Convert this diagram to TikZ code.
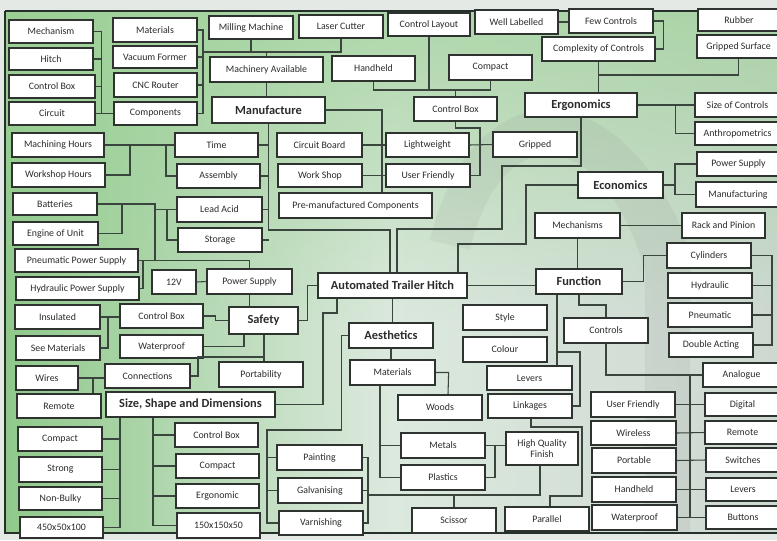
\documentclass[tikz,border=0pt]{standalone}
\usepackage{fontspec}
\setmainfont{Carlito}
\usetikzlibrary{calc,fadings}
\definecolor{lnc}{HTML}{3A463D}
\definecolor{boxc}{HTML}{2E332F}
\definecolor{txtc}{HTML}{2A2D2B}
\definecolor{bgL}{HTML}{8FC98A}
\definecolor{bgM}{HTML}{DCE9DE}
\definecolor{bgR}{HTML}{CDD8D1}
\definecolor{bgG}{HTML}{A0D29A}
\definecolor{outerc}{HTML}{E4E9E6}
\definecolor{framec}{HTML}{26302A}
\tikzfading[name=fadedown, top color=transparent!25, bottom color=transparent!100]
\newcommand\mybox[7][]{\node[bx,#1,minimum width={(#5-#3)*0.75pt},minimum height={(#6-#4)*0.75pt}] (#2) at ({(#3+#5)/2},{(#4+#6)/2}) {#7};}
\begin{document}
\begin{tikzpicture}[x=0.75pt,y=-0.75pt,
  bx/.style={draw=boxc,line width=0.95pt,fill=white,inner sep=0pt,align=center,text=txtc,font=\fontsize{7.4}{8}\selectfont},
  hd/.style={font=\bfseries\fontsize{9.3}{10}\selectfont},
  cn/.style={draw=lnc,line width=0.8pt}]
\useasboundingbox (0,0) rectangle (777,540);
\clip (0,0) rectangle (777,540);
% background
\fill[outerc] (0,0) rectangle (777,540);
\shade[left color=bgL, right color=bgR, middle color=bgM] (5,11) rectangle (777,533);
\fill[bgG, path fading=fadedown] (5,11) rectangle (777,320);
\fill[gray, opacity=0.10] (430,240) .. controls (470,70) and (620,60) .. (690,250) -- (690,533) -- (645,533) -- (645,270) .. controls (600,120) and (500,120) .. (470,250) -- cycle;
\draw[framec, line width=1.6pt] (5,11) -- (780,11);
\draw[framec, line width=1.6pt] (5,11) -- (5,533) -- (780,533);

% left column
\mybox{mech}{9}{20}{93}{43}{Mechanism}
\mybox{hitch}{9}{48}{93}{70}{Hitch}
\mybox{cboxa}{9}{75}{95}{98}{Control Box}
\mybox{circ}{9}{102}{95}{125}{Circuit}
\mybox{mhours}{12}{133}{104}{157}{Machining Hours}
\mybox{whours}{12}{163}{105}{187}{Workshop Hours}
\mybox{batt}{13}{193}{97}{215}{Batteries}
\mybox{engine}{13}{222}{98}{245}{Engine of Unit}
\mybox{pneu}{15}{249}{138}{272}{Pneumatic Power Supply}
\mybox{hydr}{16}{277}{139}{300}{Hydraulic Power Supply}
\mybox{insul}{15}{305}{100}{329}{Insulated}
\mybox{seemat}{16}{336}{100}{360}{See Materials}
\mybox{wires}{16}{366}{78}{390}{Wires}
\mybox{remotea}{17}{394}{101}{418}{Remote}
\mybox{compacta}{18}{427}{102}{451}{Compact}
\mybox{strong}{19}{457}{102}{482}{Strong}
\mybox{nonbulky}{19}{487}{102}{510}{Non-Bulky}
\mybox{dima}{20}{517}{103}{538}{450x50x100}
% second column
\mybox{mata}{113}{18}{197}{42}{Materials}
\mybox{vac}{113}{46}{197}{68}{Vacuum Former}
\mybox{cnc}{114}{73}{197}{97}{CNC Router}
\mybox{comp}{114}{102}{197}{125}{Components}
\mybox{time}{175}{133}{258}{157}{Time}
\mybox{assem}{177}{164}{260}{188}{Assembly}
\mybox{lead}{177}{197}{262}{222}{Lead Acid}
\mybox{stor}{178}{228}{262}{252}{Storage}
\mybox{vtw}{152}{270}{196}{294}{12V}
\mybox{psupa}{207}{269}{292}{294}{Power Supply}
\mybox{cboxb}{120}{304}{203}{328}{Control Box}
\mybox{wproofa}{120}{335}{203}{358}{Waterproof}
\mybox[hd]{safety}{229}{307}{298}{334}{Safety}
\mybox{conn}{105}{364}{190}{388}{Connections}
\mybox{porta}{219}{362}{303}{387}{Portability}
\mybox[hd]{ssd}{106}{392}{275}{417}{Size, Shape and Dimensions}
\mybox{cboxc}{175}{423}{258}{447}{Control Box}
\mybox{compactb}{176}{454}{259}{478}{Compact}
\mybox{ergon}{176}{484}{259}{508}{Ergonomic}
\mybox{dimb}{177}{513}{260}{538}{150x150x50}
% top row
\mybox{mill}{209}{16}{293}{39}{Milling Machine}
\mybox{laser}{299}{15}{383}{38}{Laser Cutter}
\mybox{clay}{388}{13}{470}{36}{Control Layout}
\mybox{well}{475}{10}{558}{34}{Well Labelled}
\mybox{few}{569}{9}{653}{33}{Few Controls}
\mybox{cplx}{542}{37}{655}{61}{Complexity of Controls}
\mybox{rubber}{698}{9}{780}{31}{Rubber}
\mybox{gsurf}{697}{35}{780}{58}{Gripped Surface}
\mybox{machav}{210}{57}{323}{82}{Machinery Available}
\mybox{handa}{332}{56}{415}{81}{Handheld}
\mybox{compactc}{449}{55}{532}{80}{Compact}
\mybox[hd]{manuf}{212}{97}{325}{123}{Manufacture}
\mybox{cboxd}{414}{97}{497}{121}{Control Box}
\mybox[hd]{ergo}{525}{93}{637}{117}{Ergonomics}
\mybox{sizec}{695}{93}{780}{117}{Size of Controls}
\mybox{anthro}{695}{122}{780}{145}{Anthropometrics}
\mybox{psupb}{697}{152}{780}{176}{Power Supply}
\mybox{manufg}{696}{182}{780}{207}{Manufacturing}
\mybox{cboard}{277}{133}{362}{157}{Circuit Board}
\mybox{wshop}{278}{164}{362}{187}{Work Shop}
\mybox{light}{386}{133}{469}{157}{Lightweight}
\mybox{ufa}{386}{164}{470}{187}{User Friendly}
\mybox{grip}{493}{132}{577}{157}{Gripped}
\mybox{premf}{279}{193}{432}{218}{Pre-manufactured Components}
\mybox[hd]{econ}{578}{172}{663}{198}{Economics}
\mybox{mechs}{535}{213}{620}{238}{Mechanisms}
\mybox{rack}{682}{213}{765}{238}{Rack and Pinion}
\mybox{cyl}{667}{243}{751}{268}{Cylinders}
\mybox{hyd}{668}{273}{752}{298}{Hydraulic}
\mybox{pneum}{668}{303}{752}{327}{Pneumatic}
\mybox{dbl}{669}{333}{753}{357}{Double Acting}
\mybox[hd]{func}{536}{269}{622}{294}{Function}
\mybox{ctrls}{564}{318}{648}{343}{Controls}
\mybox[hd]{ath}{318}{273}{467}{298}{Automated Trailer Hitch}
\mybox[hd]{aes}{349}{323}{433}{348}{Aesthetics}
\mybox{sty}{463}{305}{547}{330}{Style}
\mybox{colour}{463}{337}{547}{362}{Colour}
\mybox{matb}{350}{360}{435}{385}{Materials}
\mybox{leversa}{487}{366}{572}{390}{Levers}
\mybox{link}{488}{394}{572}{418}{Linkages}
\mybox{woods}{398}{395}{482}{420}{Woods}
\mybox{metals}{401}{433}{485}{458}{Metals}
\mybox{plast}{401}{465}{485}{490}{Plastics}
\mybox{hqf}{506}{432}{578}{465}{High Quality\\Finish}
\mybox{paint}{277}{445}{362}{470}{Painting}
\mybox{galv}{278}{478}{362}{503}{Galvanising}
\mybox{varn}{279}{511}{363}{535}{Varnishing}
\mybox{sciss}{412}{508}{496}{533}{Scissor}
\mybox{para}{505}{507}{589}{531}{Parallel}
\mybox{ufb}{591}{392}{675}{417}{User Friendly}
\mybox{wless}{591}{421}{676}{445}{Wireless}
\mybox{portb}{592}{448}{676}{473}{Portable}
\mybox{handb}{592}{477}{676}{502}{Handheld}
\mybox{wproofb}{592}{505}{677}{530}{Waterproof}
\mybox{analog}{703}{363}{780}{387}{Analogue}
\mybox{digital}{705}{393}{780}{416}{Digital}
\mybox{remoteb}{705}{421}{780}{444}{Remote}
\mybox{switch}{706}{448}{780}{472}{Switches}
\mybox{leversb}{706}{478}{780}{501}{Levers}
\mybox{buttons}{706}{506}{780}{529}{Buttons}

% ---------- connectors ----------
% left group to components
\draw[cn] (mech.east) -- ++(8,0) |- (comp.west);
\draw[cn] (hitch.east) -- (hitch.east -| 101,0);
\draw[cn] (cboxa.east) -- (cboxa.east -| 101,0);
\draw[cn] (circ.east) -- (comp.west);
% materials bus
\coordinate (jm) at (203,52);
\draw[cn] (mata.east) -| (jm |- comp.east) -- (comp.east);
\draw[cn] (vac.east) -- (vac.east -| jm);
\draw[cn] (cnc.east) -- (cnc.east -| jm);
\draw[cn] (jm) -| (laser.south);
\draw[cn] (mill.south) -- (mill.south |- jm);
\draw[cn] (machav.north) -- (machav.north |- jm);
\draw[cn] (machav.south) -- (machav.south |- manuf.north);
% hours and time
\draw[cn] (mhours.east) -- (time.west);
\draw[cn] (whours.east) -| (130,0 |- time.west);
\draw[cn] (assem.west) -| (166,0 |- time.west);
% manufacture bottom bus
\coordinate (jb) at (268.5,230);
\draw[cn] (manuf.south) -- (jb) -| (ath.north -| 390,0);
\draw[cn] (time.east) -- (time.east -| jb);
\draw[cn] (assem.east) -- (assem.east -| jb);
\draw[cn] (lead.east) -- (lead.east -| jb);
\draw[cn] (stor.east) -- (stor.east -| jb);
% manufacture right bus
\draw[cn] (manuf.east) -| (premf.north -| 382,0);
\draw[cn] (cboard.east) -- (light.west);
\draw[cn] (wshop.east) -- (ufa.west);
% control box (ergonomics)
\coordinate (jc) at (455.5,90);
\draw[cn] (handa.south) |- (jc) -| (compactc.south);
\draw[cn] (clay.south) -- (clay.south |- jc);
\draw[cn] (cboxd.north) -- (jc);
\draw[cn] (cboxd.south) |- (480,128) |- (ufa.east);
\draw[cn] (light.east) -- (grip.west);
% ergonomics
\draw[cn] (ergo.south) |- (502,166) |- (397,229) -- (ath.north -| 397,0);
\draw[cn] (cplx.south) -- (cplx.south |- ergo.north);
\draw[cn] (gsurf.south) |- (cplx.south |- 0,75);
\draw[cn] (well.east) -- (well.east -| few.west);
\draw[cn] (few.east) -- ++(10,0) |- (cplx.east);
\draw[cn] (ergo.east) -- (sizec.west);
\draw[cn] (ergo.east) -- ++(38,0) |- (anthro.west);
% economics
\coordinate (je) at (675,185);
\draw[cn] (econ.east) -- (je);
\draw[cn] (psupb.west) -| (je |- manufg.west) -- (manufg.west);
\draw[cn] (econ.west) -| (526,244) -| (ath.north -| 458,0);
% function
\draw[cn] (mechs.east) -- (rack.west);
\draw[cn] (mechs.south) -- (mechs.south |- func.north);
\draw[cn] (func.west |- ath.east) -- (ath.east);
\draw[cn] (func.east) -- ++(21,0) |- (cyl.west);
\coordinate (jr) at (772,300);
\draw[cn] (cyl.east) -| (jr |- dbl.east) -- (dbl.east);
\draw[cn] (hyd.east) -- (hyd.east -| jr);
\draw[cn] (pneum.east) -- (pneum.east -| jr);
\draw[cn] (func.south) |- (ctrls.north |- 0,305) -- (ctrls.north);
\coordinate (jl) at (557,352);
\draw[cn] (func.south -| jl) -- (leversa.north -| jl);
\draw[cn] (jl) -- (580,352) |- (link.east);
\draw[cn] (link.south -| 531,0) |- (582,427) -- (582,496) -| (para.north -| 550,0);
% finish
\coordinate (jp) at (368,495);
\draw[cn] (hqf.south -| 540,0) |- (jp);
\draw[cn] (paint.east) -| (jp |- varn.east) -- (varn.east);
\draw[cn] (galv.east) -- (galv.east -| jp);
\draw[cn] (sciss.north) -- (sciss.north |- jp);
\draw[cn] (metals.east) -- (metals.east -| hqf.west);
\draw[cn] (plast.east) -| (495,0 |- metals.east);
% aesthetics
\draw[cn] (ath.south) -- (ath.south |- aes.north);
\draw[cn] (aes.south) -- (aes.south |- matb.north);
\draw[cn] (matb.east) -- ++(13,0) -- (woods.north -| 448,0);
\draw[cn] (matb.south -| 380,0) |- (plast.west);
\draw[cn] (metals.west) -- (metals.west -| 380,0);
\draw[cn] (aes.west) -- ++(-7,0) |- (267,430) |- (varn.west);
\draw[cn] (paint.west) -- (paint.west -| 267,0);
\draw[cn] (galv.west) -- (galv.west -| 267,0);
% controls
\draw[cn] (ctrls.south) |- (analog.west);
\draw[cn] (690,0 |- analog.west) -- (690,0 |- wproofb.east);
\draw[cn] (ufb.east) -- (digital.west);
\draw[cn] (wless.east) -- (remoteb.west);
\draw[cn] (portb.east) -- (switch.west);
\draw[cn] (handb.east) -- (leversb.west);
\draw[cn] (wproofb.east) -- (buttons.west);
% safety
\draw[cn] (vtw.east) -- (psupa.west);
\draw[cn] (pneu.east) -| (psupa.north);
\draw[cn] (hydr.east) -| (143,0 |- pneu.east);
\draw[cn] (batt.east) -| (155,0 |- pneu.east);
\draw[cn] (lead.west) -- (lead.west -| 155,0);
\draw[cn] (stor.west) -| (167,0 |- lead.west);
\draw[cn] (engine.east) -| (122,0 |- batt.east);
\draw[cn] (psupa.south) -- (psupa.south |- safety.north);
\draw[cn] (cboxb.east) -- ++(12,0) |- (safety.west);
\draw[cn] (wproofa.east) -| (safety.south -| 244,0);
\draw[cn] (safety.south -| 264,0) -- (porta.north -| 264,0);
\draw[cn] (264,357) -| (conn.east -| 198,0) -- (conn.east);
\draw[cn] (safety.east) -- ++(9,0) |- (ath.west);
\draw[cn] (ssd.east) -| (323,313) -| (ath.south -| 337,0);
\draw[cn] (insul.east) -- (insul.east -| cboxb.west);
\draw[cn] (seemat.east) -| (108,0 |- insul.east);
\draw[cn] (wires.east) -- (wires.east -| conn.west);
\draw[cn] (remotea.north -| 93,0) -- (93,0 |- wires.east);
% size, shape and dimensions
\draw[cn] (ssd.south -| 120,0) |- (dima.east);
\draw[cn] (compacta.east) -- (compacta.east -| 120,0);
\draw[cn] (strong.east) -- (strong.east -| 120,0);
\draw[cn] (nonbulky.east) -- (nonbulky.east -| 120,0);
\draw[cn] (ssd.south -| 153,0) |- (dimb.west);
\draw[cn] (cboxc.west) -- (cboxc.west -| 153,0);
\draw[cn] (compactb.west) -- (compactb.west -| 153,0);
\draw[cn] (ergon.west) -- (ergon.west -| 153,0);
\end{tikzpicture}
\end{document}
